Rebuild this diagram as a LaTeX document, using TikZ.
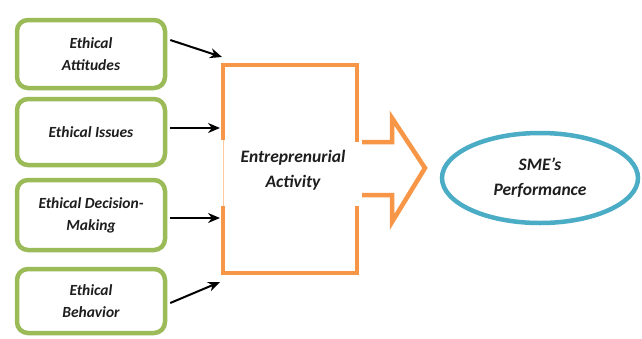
\documentclass[tikz,border=0pt]{standalone}
\usepackage{fontspec}
\setmainfont{Carlito}
\usetikzlibrary{arrows.meta,shapes.geometric}
\definecolor{ggreen}{RGB}{155,187,89}
\definecolor{oorange}{RGB}{247,150,70}
\definecolor{bblue}{RGB}{75,172,198}
\definecolor{txt}{RGB}{30,30,30}
\tikzset{
  gbox/.style={draw=ggreen, line width=4.5pt, rounded corners=11pt, minimum width=148pt, align=center, text=txt, font=\fontsize{15.5}{22}\selectfont\bfseries\itshape, fill=white},
  conn/.style={-{Stealth[length=12pt,width=10pt]}, line width=2pt, black},
  obox/.style={draw=oorange, line width=4.5pt},
  lbl/.style={align=center, text=txt, font=\fontsize{17.5}{25}\selectfont\bfseries\itshape}
}
\begin{document}
\begin{tikzpicture}[x=1pt,y=-1pt]
\useasboundingbox (0,0) rectangle (642,338);
\fill[white] (0,0) rectangle (642,338);
% green boxes
\node[gbox, minimum height=68pt] (b1) at (91,54) {Ethical\\Attitudes};
\node[gbox, minimum height=66pt] (b2) at (91,132) {Ethical Issues};
\node[gbox, minimum height=70pt] (b3) at (91,215) {Ethical Decision-\\Making};
\node[gbox, minimum height=64pt] (b4) at (91,301) {Ethical\\Behavior};
% orange frame
\draw[oorange!50, line width=1pt] (223,138) -- (223,208);
\draw[obox, line cap=rect] (223,138) -- (223,65) -- (357,65) -- (357,140);
\draw[obox, line cap=rect] (223,208) -- (223,273) -- (357,273) -- (357,208);
\draw[obox, line join=miter] (362,142) -- (392,142) -- (392,118) -- (425,168) -- (392,222) -- (392,195) -- (362,195);
\node[lbl] (ea) at (293,170) {Entreprenurial\\Activity};
% ellipse
\node[draw=bblue, line width=4.5pt, ellipse, minimum width=196pt, minimum height=90pt, lbl] (sme) at (540,178) {SME’s\\Performance};
% arrow targets
\coordinate (t1) at (222,57);
\coordinate (t2) at (220,128);
\coordinate (t3) at (220,218);
\coordinate (t4) at (220,282);
\draw[conn] ([xshift=3pt,yshift=14pt]b1.east) -- (t1);
\draw[conn] ([xshift=3pt,yshift=4pt]b2.east) -- (t2);
\draw[conn] ([xshift=3pt,yshift=-3pt]b3.east) -- (t3);
\draw[conn] ([xshift=3pt,yshift=-2pt]b4.east) -- (t4);
\end{tikzpicture}
\end{document}
